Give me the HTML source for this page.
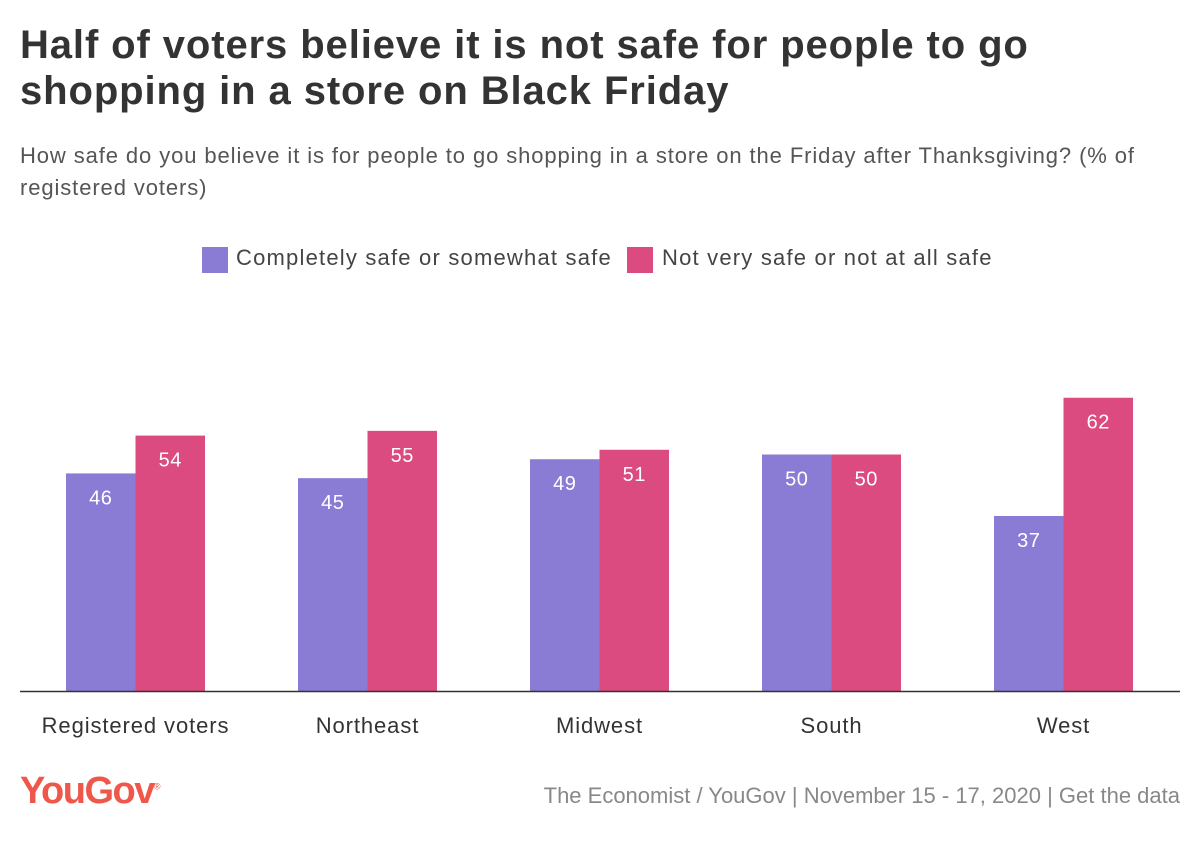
<!DOCTYPE html>
<html><head><meta charset="utf-8"><style>
body{margin:0;width:1200px;height:848px;background:#fff;font-family:"Liberation Sans",sans-serif;overflow:hidden;position:relative;color:#333}
.t{position:absolute;left:20px;top:22px;font-size:40px;font-weight:bold;line-height:46px;color:#333;letter-spacing:0.9px}
.s{position:absolute;left:20px;top:140px;font-size:22px;line-height:32px;color:#555;width:1165px;letter-spacing:0.9px}
.leg{position:absolute;top:245px;font-size:22px;color:#444;letter-spacing:1.2px}
.sw{position:absolute;width:26px;height:26px;top:247px}
</style></head><body>
<div class="t">Half of voters believe it is not safe for people to go<br>shopping in a store on Black Friday</div>
<div class="s">How safe do you believe it is for people to go shopping in a store on the Friday after Thanksgiving? (% of<br>registered voters)</div>
<div class="sw" style="left:202px;background:#8a7cd5"></div>
<div class="leg" style="left:236px">Completely safe or somewhat safe</div>
<div class="sw" style="left:627px;background:#dc4b7f"></div>
<div class="leg" style="left:662px">Not very safe or not at all safe</div>
<svg id="chart" width="1200" height="848" style="position:absolute;left:0;top:0"></svg>
<div style="position:absolute;left:20px;top:770px;font-size:38px;font-weight:bold;color:#f0574b;letter-spacing:-1.5px">YouGov<sup style="font-size:9px;font-weight:normal">®</sup></div>
<div style="position:absolute;right:20px;top:783px;font-size:22px;color:#888">The Economist / YouGov | November 15 - 17, 2020 | <span>Get the data</span></div>
<script>
const categories=["Registered voters","Northeast","Midwest","South","West"];
const safeValues=[46,45,49,50,37];
const unsafeValues=[54,55,51,50,62];
const svg=document.getElementById('chart');
const NS='http://www.w3.org/2000/svg';
const baseY=691,scale=4.73,x0=66,step=232,bw=69.5;
function yPos(v){return baseY-v*scale;}
function xPos(i){return x0+i*step;}
function mk(t,a){const e=document.createElementNS(NS,t);for(const k in a)e.setAttribute(k,a[k]);svg.appendChild(e);return e;}
const series=[[safeValues,'#8a7cd5','safe'],[unsafeValues,'#dc4b7f','unsafe']];
categories.forEach((c,i)=>{
 series.forEach((s,j)=>{
  const v=s[0][i],x=xPos(i)+j*bw;
  const r=mk('rect',{x:x,y:yPos(v),width:bw,height:baseY-yPos(v),fill:s[1]});
  
  
  const t=mk('text',{x:x+bw/2,y:yPos(v)+31,'text-anchor':'middle','font-size':20,fill:'#fff','font-family':'Liberation Sans','letter-spacing':'0.5'});
  t.textContent=v;
  
  
 });
 const l=mk('text',{x:xPos(i)+bw,y:733,'text-anchor':'middle','font-size':22,fill:'#333','font-family':'Liberation Sans','letter-spacing':'0.9'});
 l.textContent=c;
 
 
});
const ax=mk('line',{x1:20,x2:1180,y1:baseY+0.5,y2:baseY+0.5,stroke:'#333','stroke-width':1.5});


</script>
</body></html>
